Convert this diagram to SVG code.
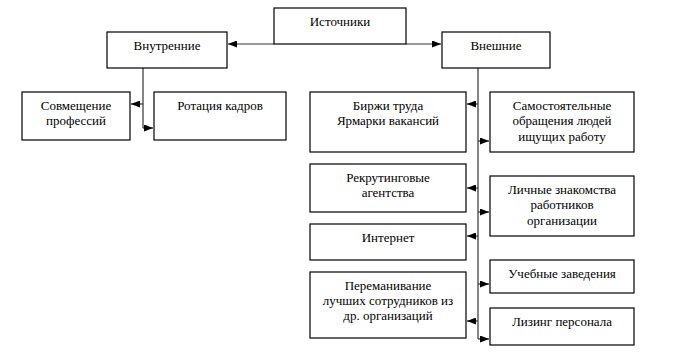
<svg xmlns="http://www.w3.org/2000/svg" width="690" height="358" viewBox="0 0 690 358">
<defs>
<marker id="ah" markerWidth="9" markerHeight="7" refX="9" refY="3.5" orient="auto" markerUnits="userSpaceOnUse">
<path d="M0,0 L9,3.5 L0,7 Z" fill="#000"/>
</marker>
<style>
rect{fill:#fff;stroke:#000;stroke-width:1.2}
text{font-family:"Liberation Serif","Times New Roman",serif;font-size:13px;fill:#000;text-anchor:middle}
.c{fill:none;stroke:#333;stroke-width:1.2}
.a{fill:none;stroke:#333;stroke-width:1.2;marker-end:url(#ah)}
</style>
</defs>
<rect width="690" height="358" style="fill:#fff;stroke:none"/>
<g id="connectors">
<path class="a" d="M274,44 H228"/>
<path class="a" d="M406,44 H441"/>
<path class="c" d="M143,68 V128"/>
<path class="a" d="M143,104 H131"/>
<path class="a" d="M143,128 H153"/>
<path class="c" d="M478,68 V339"/>
<path class="a" d="M478,104 H467"/>
<path class="a" d="M478,141 H489"/>
<path class="a" d="M478,188 H467"/>
<path class="a" d="M478,212 H489"/>
<path class="a" d="M478,236 H467"/>
<path class="a" d="M478,284 H489"/>
<path class="a" d="M478,321 H467"/>
<path class="a" d="M478,339 H489"/>
</g>
<g id="istochniki"><rect x="274" y="8" width="132" height="36"/><text x="340" y="26">Источники</text></g>
<g id="vnutrennie"><rect x="107" y="32" width="120" height="36"/><text x="167" y="50">Внутренние</text></g>
<g id="vneshnie"><rect x="442" y="32" width="108" height="36"/><text x="496" y="50">Внешние</text></g>
<g id="sovmeshchenie"><rect x="22" y="92" width="108" height="48"/><text x="76" y="110">Совмещение</text><text x="76" y="125">профессий</text></g>
<g id="rotaciya"><rect x="154" y="92" width="132" height="48"/><text x="220" y="110">Ротация кадров</text></g>
<g id="birzhi"><rect x="310" y="92" width="156" height="60"/><text x="388" y="110">Биржи труда</text><text x="388" y="125">Ярмарки вакансий</text></g>
<g id="samostoyatelnye"><rect x="490" y="92" width="144" height="60"/><text x="562" y="110">Самостоятельные</text><text x="562" y="125">обращения людей</text><text x="562" y="141">ищущих работу</text></g>
<g id="rekruting"><rect x="310" y="164" width="156" height="48"/><text x="388" y="182">Рекрутинговые</text><text x="388" y="197">агентства</text></g>
<g id="lichnye"><rect x="490" y="176" width="144" height="60"/><text x="562" y="194">Личные знакомства</text><text x="562" y="209">работников</text><text x="562" y="225">организации</text></g>
<g id="internet"><rect x="310" y="224" width="156" height="36"/><text x="388" y="242">Интернет</text></g>
<g id="uchebnye"><rect x="490" y="260" width="144" height="33"/><text x="562" y="278">Учебные заведения</text></g>
<g id="peremanivanie"><rect x="310" y="272" width="156" height="66"/><text x="388" y="290">Переманивание</text><text x="388" y="305">лучших сотрудников из</text><text x="388" y="320">др. организаций</text></g>
<g id="lizing"><rect x="490" y="308" width="144" height="37"/><text x="562" y="326">Лизинг персонала</text></g>
</svg>
